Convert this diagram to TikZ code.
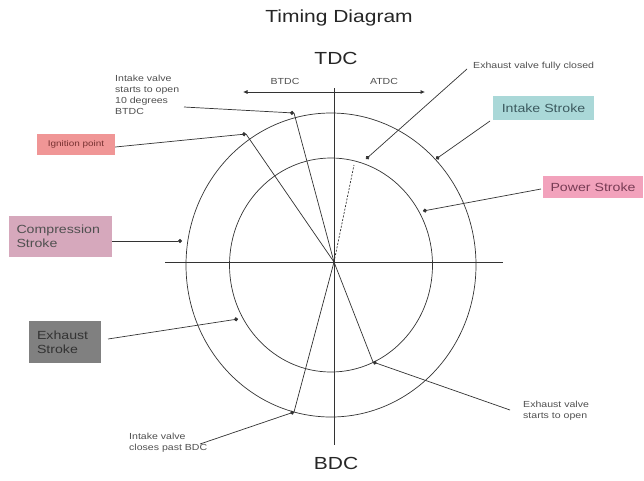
\documentclass[tikz,border=0pt]{standalone}
\usepackage{fontspec}
\setmainfont[FakeStretch=1.2]{Liberation Sans}
\usetikzlibrary{arrows.meta}
\definecolor{ignfill}{RGB}{240,150,150}
\definecolor{compfill}{RGB}{214,168,188}
\definecolor{exfill}{RGB}{128,128,128}
\definecolor{intfill}{RGB}{170,216,216}
\definecolor{powfill}{RGB}{242,162,188}
\definecolor{txtgray}{RGB}{80,80,80}
\begin{document}
\begin{tikzpicture}[x=1pt,y=-1pt,
  line/.style={draw=black!80, line width=0.7pt},
  ptr/.style={draw=black!80, line width=0.7pt, -{Circle[length=4pt]}},
  small/.style={font=\fontsize{8.8}{11}\selectfont, text=txtgray, align=left, inner sep=0pt},
  box/.style={inner sep=0pt, align=left, text=txtgray},
  big/.style={font=\fontsize{17.5}{21}\selectfont, text=black!85, inner sep=0pt}]
\useasboundingbox (0,0) rectangle (644,480);
\fill[white] (0,0) rectangle (644,480);

% title
\node[font=\fontsize{17.5}{21}\selectfont, text=black!85, inner sep=0pt] (title) at (339,18) {Timing Diagram};
\node[big] (tdc) at (336,58) {TDC};
\node[big] (bdc) at (336,463) {BDC};

% circles and axes
\coordinate (C) at (331,265);
\coordinate (O) at (334,262);
\draw[line] (C) ellipse [x radius=145, y radius=152];
\draw[line] (C) ellipse [x radius=101.5, y radius=107];
\coordinate (hl) at (165,262); \coordinate (hr) at (503,262);
\coordinate (vt) at (334,88);  \coordinate (vb) at (334,445);
\draw[line] (hl) -- (hr);
\draw[line] (vt) -- (vb);

% points on circles
\coordinate (pIO) at (294,113);
\coordinate (pIgn) at (246,134);
\coordinate (pEC) at (354,165);
\coordinate (pECa) at (366,159);
\coordinate (pEO) at (373,362);
\coordinate (pIC) at (294,412);
\coordinate (pInt) at (436,159);
\coordinate (pPow) at (423,211);
\coordinate (pComp) at (182,241);
\coordinate (pEx) at (238,319);

% radial lines
\draw[line] (O) -- (pIO);
\draw[line] (O) -- (pIgn);
\draw[line, dash pattern=on 2pt off 1.5pt] (O) -- (pEC);
\draw[line] (O) -- (pEO);
\draw[line] (O) -- (pIC);

% BTDC / ATDC
\coordinate (ba) at (243,92); \coordinate (aa) at (425,92);
\draw[line, {Latex[length=4.5pt,width=4pt]}-{Latex[length=4.5pt,width=4pt]}] (ba) -- (aa);
\node[font=\fontsize{8.8}{10}\selectfont, text=txtgray, inner sep=0pt] (btdc) at (285,81) {BTDC};
\node[font=\fontsize{8.8}{10}\selectfont, text=txtgray, inner sep=0pt] (atdc) at (384,81) {ATDC};

% boxes
\node[box, fill=ignfill, minimum width=78, minimum height=21, font=\fontsize{8.3}{9}\selectfont, text={rgb,255:red,120;green,50;blue,50}, align=center] (ign) at (76,144.5) {Ignition point};
\node[box, fill=compfill, minimum width=103, minimum height=41, font=\fontsize{11.8}{14.5}\selectfont, text width=88] (comp) at (60.5,236.5) {Compression\\Stroke};
\node[box, fill=exfill, minimum width=72, minimum height=42, font=\fontsize{11.8}{14}\selectfont, text=black!80, text width=56] (ex) at (65,342) {Exhaust\\Stroke};
\node[box, fill=intfill, minimum width=101, minimum height=24, font=\fontsize{11.8}{14}\selectfont, text={rgb,255:red,60;green,90;blue,95}, align=center] (int) at (543.5,108) {Intake Stroke};
\node[box, fill=powfill, minimum width=100, minimum height=22, font=\fontsize{11.8}{14}\selectfont, text={rgb,255:red,120;green,60;blue,85}, align=center] (pow) at (593,187) {Power Stroke};

% small labels
\node[small, anchor=north west] (tIO) at (115,75) {Intake valve\\starts to open\\10 degrees\\BTDC};
\node[small, anchor=west] (tEC) at (473,66) {Exhaust valve fully closed};
\node[small, anchor=north west] (tEO) at (523,401) {Exhaust valve\\starts to open};
\node[small, anchor=north west] (tIC) at (129,433) {Intake valve\\closes past BDC};

% pointers
\coordinate (sIO) at (184,107);
\coordinate (sEC) at (467,69);
\coordinate (sInt) at (490,121);
\coordinate (sPow) at (541,189);
\coordinate (sEO) at (510,410);
\coordinate (sIC) at (200,444);
\coordinate (sEx) at (108,339);
\draw[ptr] (sIO) -- (pIO);
\draw[ptr] (ign.east) ++(0,2.5) -- (pIgn);
\draw[ptr] (sEC) -- (pECa);
\draw[ptr] (sInt) -- (pInt);
\draw[ptr] (sPow) -- (pPow);
\draw[ptr] (comp.east |- pComp) -- (pComp);
\draw[ptr] (sEx) -- (pEx);
\draw[ptr] (sEO) -- (pEO);
\draw[ptr] (sIC) -- (pIC);
\end{tikzpicture}
\end{document}
